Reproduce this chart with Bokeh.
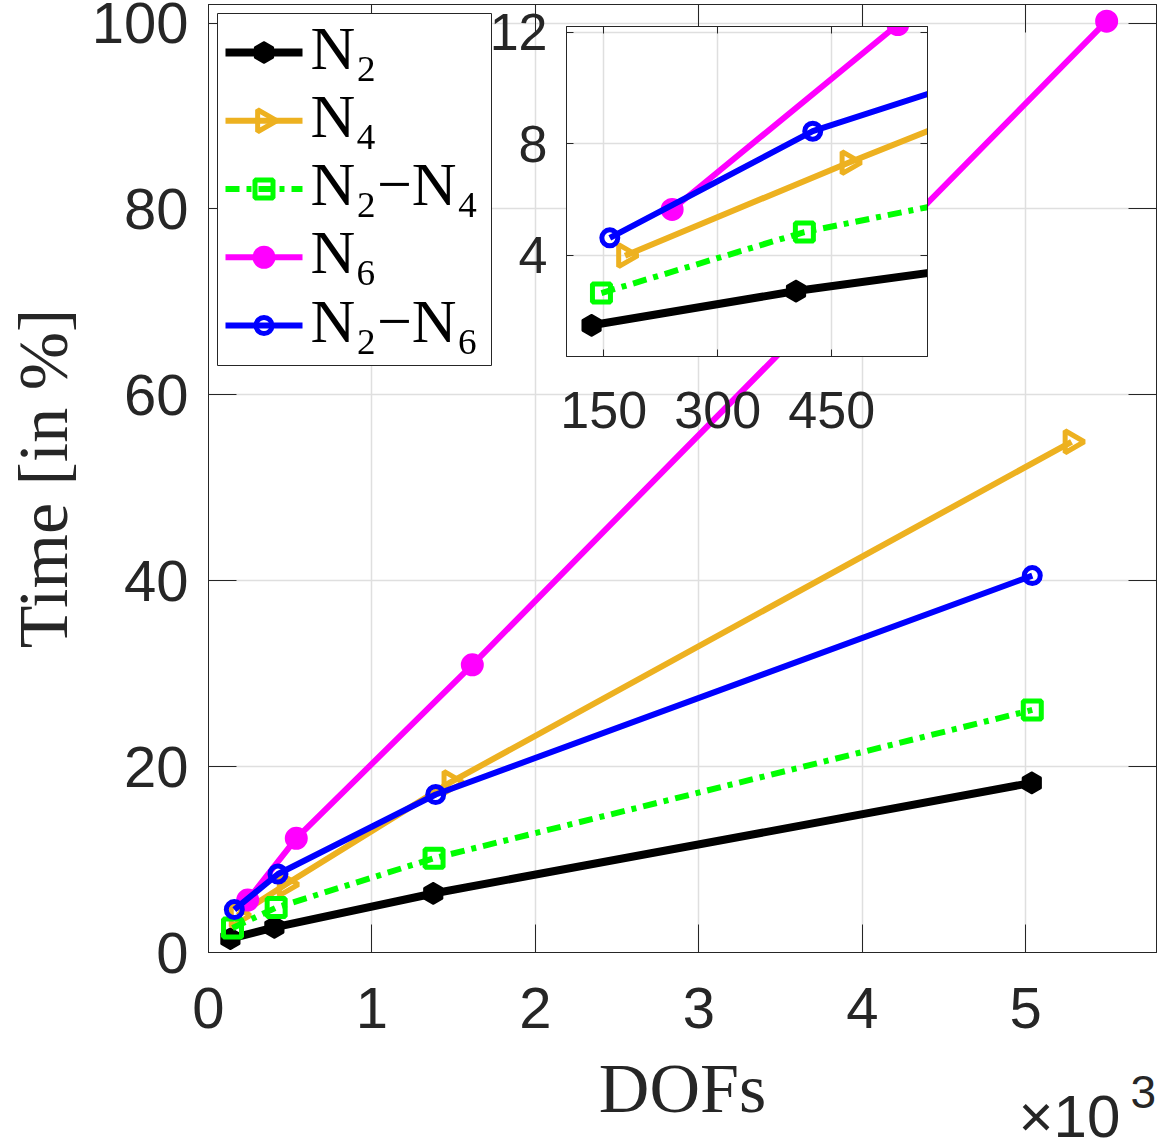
import math

from bokeh.core.properties import value
from bokeh.embed import file_html
from bokeh.models import CustomJSTickFormatter, ColumnDataSource, FixedTicker, LinearAxis, Range1d
from bokeh.plotting import figure
from bokeh.resources import INLINE

# ---- degrees of freedom vs. share of the total run time (in %) -------------
series_labels = ["N₂", "N₄", "N₂−N₄", "N₆", "N₂−N₆"]

dofs_n2 = [134, 403, 1375, 5037]
time_n2 = [1.48, 2.71, 6.35, 18.25]

dofs_n4 = [178, 472, 1480, 5280]
time_n4 = [3.98, 7.32, 18.3, 54.95]

dofs_n2_n4 = [147, 414, 1380, 5040]
time_n2_n4 = [2.64, 4.83, 10.15, 26.1]

dofs_n6 = [240, 537, 1614, 5495]
time_n6 = [5.64, 12.28, 30.95, 100.2]

dofs_n2_n6 = [158, 425, 1390, 5040]
time_n2_n6 = [4.62, 8.45, 17.0, 40.55]

x_ticks = [0, 1000, 2000, 3000, 4000, 5000]
y_ticks = [0, 20, 40, 60, 80, 100]
zoom_x_ticks = [150, 300, 450]
zoom_y_ticks = [4, 8, 12]

# ---- styling ---------------------------------------------------------------
INK = "#262626"
GRID = "#dfdfdf"
SANS = "Liberation Sans"
SERIF = "Liberation Serif"

series_data = [
    (dofs_n2, time_n2),
    (dofs_n4, time_n4),
    (dofs_n2_n4, time_n2_n4),
    (dofs_n6, time_n6),
    (dofs_n2_n6, time_n2_n6),
]
series_styles = [
    dict(color="#000000", width=8, dash="solid", marker="hex", size=21, fill=True,
         angle=math.pi / 2, mlw=2),
    dict(color="#EDB120", width=6, dash="solid", marker="triangle", size=22, fill=False,
         angle=-math.pi / 2, mlw=5),
    dict(color="#00FF00", width=6, dash="14 7 5 7", marker="square", size=18, fill=False,
         angle=0.0, mlw=5),
    dict(color="#FF00FF", width=6, dash="solid", marker="circle", size=21, fill=True,
         angle=0.0, mlw=2),
    dict(color="#0000FF", width=6, dash="solid", marker="circle", size=16, fill=False,
         angle=0.0, mlw=5),
]


def draw_line(fig, xs, ys, st):
    fig.line(xs, ys, line_color=st["color"], line_width=st["width"],
             line_dash=st["dash"], line_join="round")


def draw_markers(fig, xs, ys, st):
    fig.scatter(xs, ys, marker=st["marker"], size=st["size"], angle=st["angle"],
                line_color=st["color"], line_width=st["mlw"],
                fill_color=st["color"] if st["fill"] else None)


def draw_series(fig):
    for (xs, ys), st in zip(series_data, series_styles):
        src = ColumnDataSource(dict(x=xs, y=ys))
        fig.line("x", "y", source=src, line_color=st["color"], line_width=st["width"],
                 line_dash=st["dash"], line_join="round")
        fig.scatter("x", "y", source=src, marker=st["marker"], size=st["size"],
                    angle=st["angle"], line_color=st["color"], line_width=st["mlw"],
                    fill_color=st["color"] if st["fill"] else None)


def style_axis(ax, tick_len, font_px, standoff):
    ax.major_tick_in = tick_len
    ax.major_tick_out = 0
    ax.minor_tick_in = 0
    ax.minor_tick_out = 0
    ax.axis_line_color = INK
    ax.axis_line_width = 1
    ax.major_tick_line_color = INK
    ax.major_tick_line_width = 1
    ax.major_label_text_font = SANS
    ax.major_label_text_font_size = f"{font_px}px"
    ax.major_label_text_color = INK
    ax.major_label_standoff = standoff


def setup_frame(fig, xt, yt, tick_len, font_px, x_standoff, y_standoff):
    """Fixed ticks, inward ticks on all four sides, light grid; returns (x axis, y axis)."""
    xax, yax = fig.below[0], fig.left[0]
    xax.ticker = xt
    yax.ticker = yt
    fig.xgrid[0].ticker = xt
    fig.ygrid[0].ticker = yt
    style_axis(xax, tick_len, font_px, x_standoff)
    style_axis(yax, tick_len, font_px, y_standoff)
    fig.grid.grid_line_color = GRID
    fig.grid.grid_line_width = 1.5
    fig.outline_line_color = INK
    fig.outline_line_width = 1
    for side, ticker in (("above", xt), ("right", yt)):
        ax = LinearAxis(ticker=ticker)
        style_axis(ax, tick_len, 0, 0)
        ax.major_label_text_alpha = 0
        fig.add_layout(ax, side)
    return xax, yax


def overlay(width, height, left, top, **kw):
    """A borderless figure placed on top of the main axes, one pixel per unit, y downwards."""
    f = figure(width=width, height=height, x_range=Range1d(0, width), y_range=Range1d(height, 0),
               output_backend="svg", toolbar_location=None, min_border=0,
               x_axis_location=None, y_axis_location=None, border_fill_color=None,
               styles={"position": "absolute", "left": f"{left}px", "top": f"{top}px"}, **kw)
    f.grid.visible = False
    return f


# ---- main axes ---------------------------------------------------------------
p = figure(width=1161, height=1144, x_range=Range1d(0, 5800), y_range=Range1d(0, 102),
           output_backend="svg", toolbar_location=None,
           min_border_left=208, min_border_right=5, min_border_top=4, min_border_bottom=192,
           background_fill_color="white", border_fill_color="white")

xax, yax = setup_frame(p, FixedTicker(ticks=x_ticks), FixedTicker(ticks=y_ticks), 28, 58, 35, 20)
xax.formatter = CustomJSTickFormatter(code="return (tick / 1000).toFixed(0);")
xax.axis_label = "DOFs"
yax.axis_label = "Time [in %]"
for ax, standoff in ((xax, 19), (yax, 7)):
    ax.axis_label_text_font = SERIF
    ax.axis_label_text_font_size = "70px"
    ax.axis_label_text_font_style = "normal"
    ax.axis_label_text_color = INK
    ax.axis_label_standoff = standoff

draw_series(p)

# ---- legend box ----------------------------------------------------------------
leg = overlay(275, 353, 217, 13, background_fill_color="white")
leg.outline_line_color = INK
leg.outline_line_width = 1
for i, (label, st) in enumerate(zip(series_labels, series_styles)):
    row = 39 + 68.25 * i
    draw_line(leg, [8, 85], [row, row], st)
    draw_markers(leg, [46.5], [row], st)
    leg.text(x=[93], y=[row - 5], text=[label], text_font=value(SERIF),
             text_font_size=value("62px"), text_color="black", text_baseline="middle")

# ---- scale factor of the DOF axis ---------------------------------------------
sci = overlay(150, 80, 1011, 1064, background_fill_color=None)
sci.outline_line_color = None
sci.text(x=[7], y=[52], text=["×10"], text_font=value(SANS), text_font_size=value("60px"),
         text_color=INK, text_baseline="middle")
sci.text(x=[119], y=[27], text=["3"], text_font=value(SANS), text_font_size=value("46px"),
         text_color=INK, text_baseline="middle")

# ---- zoomed view of the small problems ------------------------------------
q = figure(width=451, height=456, x_range=Range1d(101, 576), y_range=Range1d(0.36, 12.21),
           output_backend="svg", toolbar_location=None,
           min_border_left=80, min_border_right=10, min_border_top=26, min_border_bottom=100,
           background_fill_color="white", border_fill_color=None,
           styles={"position": "absolute", "left": "486px", "top": "0px"})
setup_frame(q, FixedTicker(ticks=zoom_x_ticks), FixedTicker(ticks=zoom_y_ticks), 7, 52, 35, 19)
draw_series(q)

with open("out.html", "w") as fh:
    fh.write(file_html([p, leg, q, sci], INLINE, title="DOFs vs. time"))
